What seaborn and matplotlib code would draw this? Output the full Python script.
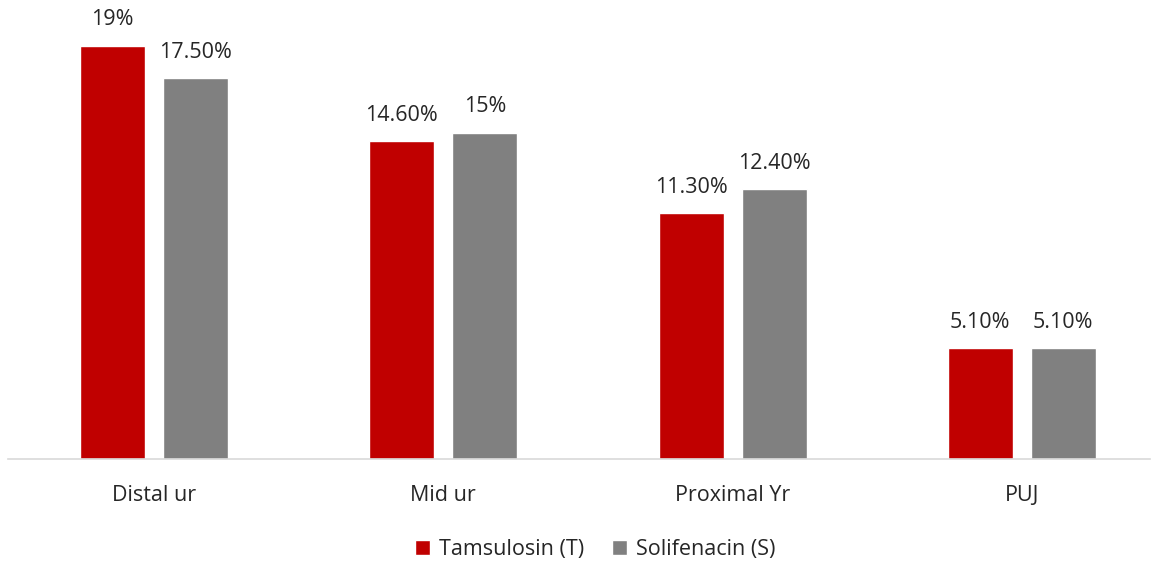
import matplotlib
matplotlib.use('Agg')
import matplotlib.pyplot as plt
import seaborn as sns
import pandas as pd

# data
categories = ['Distal ur', 'Mid ur', 'Proximal Yr', 'PUJ']
tamsulosin = [19.0, 14.6, 11.3, 5.1]
solifenacin = [17.5, 15.0, 12.4, 5.1]
tams_labels = ['19%', '14.60%', '11.30%', '5.10%']
soli_labels = ['17.50%', '15%', '12.40%', '5.10%']
series = ['Tamsulosin (T)', 'Solifenacin (S)']

df = pd.DataFrame({
    'cat': categories * 2,
    'val': tamsulosin + solifenacin,
    'drug': [series[0]] * 4 + [series[1]] * 4,
})

sns.set_style('white')
plt.rcParams['font.family'] = ['Open Sans', 'DejaVu Sans']
txt = '#262626'

fig = plt.figure(figsize=(11.55, 5.62), dpi=100)
ax = fig.add_axes([8 / 1155, 103 / 562, 1142 / 1155, 459 / 562])

sns.barplot(data=df, x='cat', y='val', hue='drug', palette=['#C00000', '#808080'],
            width=0.574, gap=0.217, saturation=1, ax=ax, legend=True)

for cont, labs in zip(ax.containers, [tams_labels, soli_labels]):
    ax.bar_label(cont, labels=labs, padding=11, fontsize=15.5, color=txt)

ax.set_xlim(-0.505, 3.443)
ax.set_ylim(0, 21.1)
ax.set_xlabel('')
ax.set_ylabel('')
ax.set_yticks([])
ax.tick_params(axis='x', length=0, pad=19, labelsize=15.5, labelcolor=txt)
for s in ['top', 'left', 'right']:
    ax.spines[s].set_visible(False)
ax.spines['bottom'].set_color('#D9D9D9')
ax.spines['bottom'].set_linewidth(1.2)

ax.legend(loc='center', bbox_to_anchor=(0.514, -0.198), ncol=2, frameon=False,
          fontsize=15.5, handlelength=0.7, handleheight=0.7, handletextpad=0.4,
          columnspacing=1.3, labelcolor=txt)

fig.savefig('out.png', dpi=100)
plt.close()
